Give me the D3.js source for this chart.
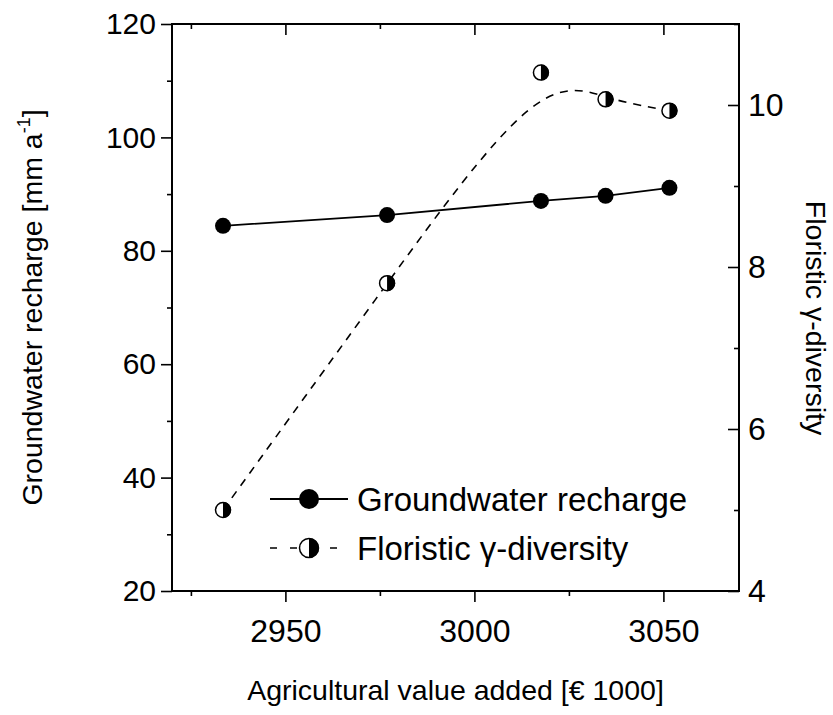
<!DOCTYPE html>
<html><head><meta charset="utf-8">
<script src="https://cdn.jsdelivr.net/npm/d3@7"></script>
<style>
body{margin:0;background:#fff;}
text{font-family:"Liberation Sans",Arial,sans-serif;fill:#000;}
</style></head>
<body>
<svg id="chart" width="833" height="715"></svg>
<script>
// ---- data ----
const agriValue = [2933.5, 2976.9, 3017.6, 3034.7, 3051.6];
const recharge = [84.4, 86.3, 88.8, 89.7, 91.1];
const gammaDiversity = [5.0, 7.8, 10.4, 10.07, 9.93];
const xMajorTicks = [2950, 3000, 3050];
const xMinorTicks = [2925, 2975, 3025];
const yLeftMajor = [20, 40, 60, 80, 100, 120];
const yLeftMinor = [30, 50, 70, 90, 110];
const yRightMajor = [4, 6, 8, 10];
const yRightMinor = [5, 7, 9, 11];
const seriesNames = ["Groundwater recharge", "Floristic \u03B3-diversity"];

const svg = d3.select("#chart");
const L = 172, R = 739, T = 24, B = 591;
const FS_TICK_L = 30, FS_TICK_B = 32, FS_TICK_R = 32, FS_LEG = 33, FS_TITLE = 28.5;
const x = d3.scaleLinear().domain([2920, 3070]).range([L, R]);
const yL = d3.scaleLinear().domain([20, 120]).range([B, T]);
const yR = d3.scaleLinear().domain([4, 11]).range([B, T]);

function styleAxis(g, fs) {
  g.select(".domain").remove();
  g.selectAll(".tick line").attr("stroke", "#000").attr("stroke-width", 1.6);
  if (fs) g.selectAll(".tick text").style("font-size", fs + "px").attr("fill", "#000");
  else g.selectAll(".tick text").remove();
}

// bottom axis
svg.append("g").attr("transform", `translate(0,${B})`)
  .call(d3.axisBottom(x).tickValues(xMajorTicks).tickSize(11).tickPadding(17).tickFormat(d3.format("d")))
  .call(g => styleAxis(g, FS_TICK_B));
svg.append("g").attr("transform", `translate(0,${B})`)
  .call(d3.axisBottom(x).tickValues(xMinorTicks).tickSize(5).tickFormat(""))
  .call(g => styleAxis(g, 0));
// top axis (inward)
svg.append("g").attr("transform", `translate(0,${T})`)
  .call(d3.axisBottom(x).tickValues(xMajorTicks).tickSize(11).tickFormat(""))
  .call(g => styleAxis(g, 0));
svg.append("g").attr("transform", `translate(0,${T})`)
  .call(d3.axisBottom(x).tickValues(xMinorTicks).tickSize(5).tickFormat(""))
  .call(g => styleAxis(g, 0));
// left axis
svg.append("g").attr("transform", `translate(${L},0)`)
  .call(d3.axisLeft(yL).tickValues(yLeftMajor).tickSize(11).tickPadding(5).tickFormat(d3.format("d")))
  .call(g => styleAxis(g, FS_TICK_L));
svg.append("g").attr("transform", `translate(${L},0)`)
  .call(d3.axisLeft(yL).tickValues(yLeftMinor).tickSize(5).tickFormat(""))
  .call(g => styleAxis(g, 0));
// right axis (inward ticks)
const rightMaj = svg.append("g").attr("transform", `translate(${R},0)`)
  .call(d3.axisLeft(yR).tickValues(yRightMajor).tickSize(11).tickFormat(d3.format("d")))
  .call(g => styleAxis(g, FS_TICK_R));
rightMaj.selectAll(".tick text").attr("x", 9).attr("text-anchor", "start");
svg.append("g").attr("transform", `translate(${R},0)`)
  .call(d3.axisLeft(yR).tickValues(yRightMinor).tickSize(5).tickFormat(""))
  .call(g => styleAxis(g, 0));

// frame
svg.append("rect").attr("x", L).attr("y", T).attr("width", R - L).attr("height", B - T)
  .attr("fill", "none").attr("stroke", "#000").attr("stroke-width", 2);

// series
const gwData = agriValue.map((v, i) => [v, recharge[i]]);
const fdData = agriValue.map((v, i) => [v, gammaDiversity[i]]);
svg.append("path").datum(gwData)
  .attr("d", d3.line().x(d => x(d[0])).y(d => yL(d[1])))
  .attr("fill", "none").attr("stroke", "#000").attr("stroke-width", 1.8);
svg.append("path").datum(fdData)
  .attr("d", d3.line().x(d => x(d[0])).y(d => yR(d[1])).curve(d3.curveBasis))
  .attr("fill", "none").attr("stroke", "#000").attr("stroke-width", 1.6)
  .attr("stroke-dasharray", "8,7");

const MR = 8, LMR = 10;
function halfMarker(g, cx, cy, r) {
  g.append("circle").attr("cx", cx).attr("cy", cy).attr("r", r - 0.5)
    .attr("fill", "#fff").attr("stroke", "#000").attr("stroke-width", 1.5);
  g.append("path").attr("transform", `translate(${cx},${cy})`)
    .attr("d", d3.arc()({innerRadius: 0, outerRadius: r, startAngle: 0, endAngle: Math.PI}))
    .attr("fill", "#000");
}
gwData.forEach(d => svg.append("circle").attr("cx", x(d[0])).attr("cy", yL(d[1])).attr("r", MR).attr("fill", "#000"));
fdData.forEach(d => halfMarker(svg, x(d[0]), yR(d[1]), MR));

// legend
const lg = svg.append("g");
const ly1 = 499, ly2 = 548, lx0 = 270, lx1 = 348, lxm = 309;
lg.append("line").attr("x1", lx0).attr("x2", lx1).attr("y1", ly1).attr("y2", ly1).attr("stroke", "#000").attr("stroke-width", 1.8);
lg.append("circle").attr("cx", lxm).attr("cy", ly1).attr("r", LMR).attr("fill", "#000");
lg.append("text").attr("x", 357).attr("y", ly1).attr("dy", "0.36em").style("font-size", FS_LEG + "px").text(seriesNames[0]);
lg.append("line").attr("x1", lx0).attr("x2", lx1).attr("y1", ly2).attr("y2", ly2).attr("stroke", "#000").attr("stroke-width", 1.6).attr("stroke-dasharray", "7,13");
halfMarker(lg, lxm, ly2, LMR);
lg.append("text").attr("x", 357).attr("y", ly2).attr("dy", "0.36em").style("font-size", FS_LEG + "px").text(seriesNames[1]);

// axis titles
svg.append("text").attr("x", (L + R) / 2).attr("y", 700).attr("text-anchor", "middle")
  .style("font-size", FS_TITLE + "px").text("Agricultural value added [\u20AC 1000]");
const lt = svg.append("text").attr("transform", `translate(42,${(T + B) / 2}) rotate(-90)`)
  .attr("text-anchor", "middle").style("font-size", FS_TITLE + "px");
lt.append("tspan").text("Groundwater recharge [mm a");
lt.append("tspan").attr("dy", -12).style("font-size", "18px").text("-1");
lt.append("tspan").attr("dy", 12).text("]");
svg.append("text").attr("transform", `translate(806,${318}) rotate(90)`)
  .attr("text-anchor", "middle").style("font-size", FS_TITLE + "px").text("Floristic \u03B3-diversity");
</script>
</body></html>
